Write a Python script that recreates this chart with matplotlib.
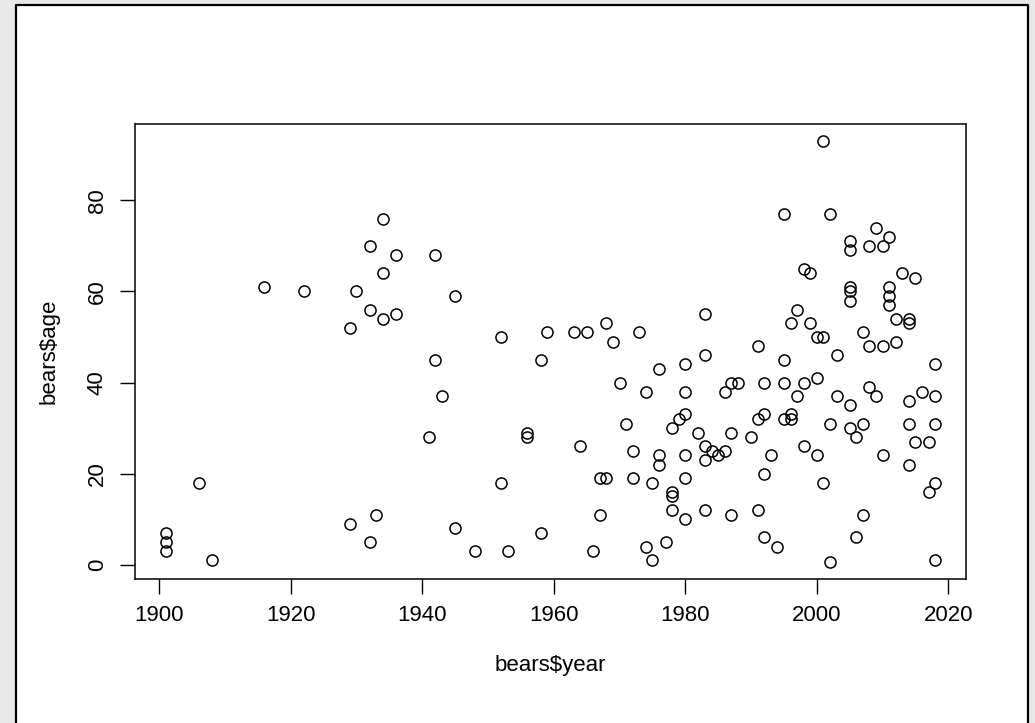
import matplotlib
matplotlib.use("Agg")
import matplotlib.pyplot as plt
from matplotlib.patches import Rectangle

plt.rcParams['font.family'] = ['Liberation Sans', 'DejaVu Sans']

# bears data: (year, age) pairs
year = [1901, 1901, 1901, 1906, 1908, 1916, 1922, 1929, 1929, 1930,
        1932, 1932, 1932, 1933, 1934, 1934, 1934, 1936, 1936, 1941,
        1942, 1942, 1943, 1945, 1945, 1948, 1952, 1952, 1953, 1956,
        1956, 1958, 1958, 1959, 1963, 1964, 1965, 1966, 1967, 1967,
        1968, 1968, 1969, 1970, 1971, 1972, 1972, 1973, 1974, 1974,
        1975, 1975, 1976, 1976, 1976, 1977, 1978, 1978, 1978, 1978,
        1979, 1980, 1980, 1980, 1980, 1980, 1980, 1982, 1983, 1983,
        1983, 1983, 1983, 1984, 1985, 1986, 1986, 1987, 1987, 1987,
        1988, 1990, 1991, 1991, 1991, 1992, 1992, 1992, 1992, 1993,
        1994, 1995, 1995, 1995, 1995, 1996, 1996, 1996, 1997, 1997,
        1998, 1998, 1998, 1999, 1999, 2000, 2000, 2000, 2001, 2001,
        2001, 2002, 2002, 2002, 2003, 2003, 2005, 2005, 2005, 2005,
        2005, 2005, 2005, 2006, 2006, 2007, 2007, 2007, 2008, 2008,
        2008, 2009, 2009, 2010, 2010, 2010, 2011, 2011, 2011, 2011,
        2012, 2012, 2013, 2014, 2014, 2014, 2014, 2014, 2015, 2015,
        2016, 2017, 2017, 2018, 2018, 2018, 2018, 2018]
age = [7, 5, 3, 18, 1, 61, 60, 52, 9, 60,
       70, 56, 5, 11, 76, 64, 54, 68, 55, 28,
       68, 45, 37, 59, 8, 3, 50, 18, 3, 29,
       28, 45, 7, 51, 51, 26, 51, 3, 19, 11,
       53, 19, 49, 40, 31, 25, 19, 51, 38, 4,
       18, 1, 43, 24, 22, 5, 30, 16, 15, 12,
       32, 44, 38, 33, 24, 19, 10, 29, 55, 46,
       26, 23, 12, 25, 24, 38, 25, 40, 29, 11,
       40, 28, 48, 32, 12, 40, 33, 20, 6, 24,
       4, 77, 45, 40, 32, 53, 33, 32, 56, 37,
       65, 40, 26, 64, 53, 50, 41, 24, 93, 50,
       18, 77, 31, 0.5, 46, 37, 71, 69, 61, 60,
       58, 35, 30, 28, 6, 51, 31, 11, 70, 48,
       39, 74, 37, 70, 48, 24, 72, 61, 59, 57,
       54, 49, 64, 54, 53, 36, 31, 22, 63, 27,
       38, 27, 16, 44, 37, 31, 18, 1]

xticks = [1900, 1920, 1940, 1960, 1980, 2000, 2020]
yticks = [0, 20, 40, 60, 80]

fig = plt.figure(figsize=(10.35, 7.23), dpi=100)
fig.patch.set_facecolor('#e8e8e8')

# white page with a black frame (left, top, right), behind the axes
page = Rectangle((15 / 1035, 0), 1014 / 1035, 719 / 723,
                 transform=fig.transFigure, facecolor='white',
                 edgecolor='none', zorder=-10)
fig.add_artist(page)
frame = plt.Line2D([16 / 1035, 16 / 1035, 1028 / 1035, 1028 / 1035],
                   [0, 718 / 723, 718 / 723, 0],
                   transform=fig.transFigure, color='black', lw=1.6, zorder=-9)
fig.add_artist(frame)

ax = fig.add_axes([135 / 1035, 1 - 579.3 / 723, 831 / 1035, 455 / 723])
ax.set_zorder(1)
ax.set_facecolor('white')
ax.plot(year, age, linestyle='none', marker='o', markersize=8,
        markerfacecolor='none', markeredgecolor='black', markeredgewidth=1.1)

# R-style 4% padding
x0, x1 = min(year), max(year)
y0, y1 = min(age), max(age)
dx, dy = 0.04 * (x1 - x0), 0.04 * (y1 - y0)
ax.set_xlim(x0 - dx, x1 + dx)
ax.set_ylim(y0 - dy, y1 + dy)

ax.set_xticks(xticks)
ax.set_yticks(yticks)
ax.set_yticklabels([str(v) for v in yticks], rotation=90, va='center')
ax.tick_params(direction='out', length=10.5, width=1, labelsize=16, pad=8)
ax.tick_params(axis='y', pad=9)
for s in ax.spines.values():
    s.set_linewidth(1.1)

ax.set_xlabel('bears$year', fontsize=16, labelpad=21)
ax.set_ylabel('bears$age', fontsize=16, labelpad=20)

fig.savefig('out.png', dpi=100, facecolor=fig.get_facecolor())
